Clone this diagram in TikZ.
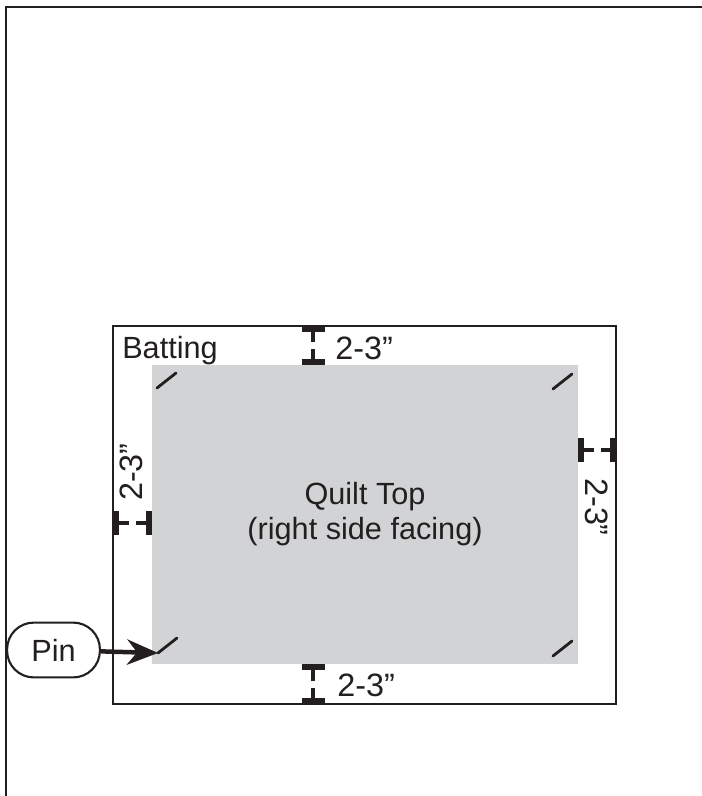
\documentclass[tikz,border=0pt]{standalone}
\usepackage{fontspec}
\setmainfont{Liberation Sans}
\usepackage{xcolor}
\definecolor{inkBlack}{HTML}{231F20}
\definecolor{quiltGray}{HTML}{D1D3D4}
\usetikzlibrary{
    arrows.meta,
    positioning
}
\tikzset{
    % Base style for all texts
    plain text/.style={
        font=\fontsize{21.8}{24.9}\selectfont,
        text=inkBlack,
        inner sep=0pt,
    },
    % Outer frame lines
    frame line/.style={
        draw=inkBlack,
        line width=1.7pt,
    },
    % Batting edge
    batting edge/.style={
        draw=inkBlack,
        line width=1.7pt,
    },
    % Quilt top fill
    quilt top/.style={
        fill=quiltGray,
    },
    % Two-line caption in the quilt
    quilt text/.style={
        plain text,
        align=center,
    },
    % Short pin strokes
    pin mark/.style={
        draw=inkBlack,
        line width=2pt,
        line cap=round,
    },
    % Gap marker parts
    gap cap/.style={
        draw=inkBlack,
        line width=4.3pt,
    },
    gap stem/.style={
        draw=inkBlack,
        line width=3.5pt,
    },
    % Gap size labels
    gap label/.style={
        plain text,
        font=\fontsize{23}{26}\selectfont,
    },
    % Rounded callout
    callout/.style={
        plain text,
        draw=inkBlack,
        line width=1.5pt,
        rounded corners=19pt,
        minimum width=66pt,
        minimum height=39pt,
    },
    % Callout arrow
    callout arrow/.style={
        -{Stealth[length=22pt, width=18pt]},
        draw=inkBlack,
        line width=3.2pt,
    },
}
\begin{document}
\begin{tikzpicture}[x=0.025cm, y=-0.025cm]
    \useasboundingbox (0,0) rectangle (702,796);

    % outer frame
    \draw [frame line] (6,796) -- (6,7) -- (702,7);

    % batting and quilt top
    \draw [batting edge] (113,326) rectangle (616,704);
    \fill [quilt top] (152,365) rectangle (578,664);
    \node (batting) [plain text, anchor=base west] at (122,358) {Batting};
    \node (quilt) [quilt text] at (365,514.5) {Quilt Top\\(right side facing)};

    % pins at the corners
    \foreach \name/\px/\py in {pinTL/157/388, pinTR/553/389, pinBL/158/653, pinBR/553/656}{
        \coordinate (\name) at (\px,\py);
        \draw [pin mark] (\name) -- ++(19,-15);
    }

    % vertical gap markers
    \foreach \gx/\ga/\gb in {313/326/365, 313/664/704}{
        \draw [gap cap] (\gx-11.5,\ga+3) -- (\gx+11.5,\ga+3);
        \draw [gap cap] (\gx-11.5,\gb-3) -- (\gx+11.5,\gb-3);
        \draw [gap stem] (\gx,\ga) -- (\gx,{(\ga+\gb)/2-3.5});
        \draw [gap stem] (\gx,{(\ga+\gb)/2+3.5}) -- (\gx,\gb);
    }

    % horizontal gap markers
    \foreach \gy/\ga/\gb in {523/113/152, 450/578/616}{
        \draw [gap cap] (\ga+3,\gy-12) -- (\ga+3,\gy+12);
        \draw [gap cap] (\gb-3,\gy-12) -- (\gb-3,\gy+12);
        \draw [gap stem] (\ga,\gy) -- ({(\ga+\gb)/2-3.5},\gy);
        \draw [gap stem] ({(\ga+\gb)/2+3.5},\gy) -- (\gb,\gy);
    }

    \node (gapTop) [gap label, anchor=base west] at (335,359) {2-3”};
    \node (gapBottom) [gap label, anchor=base west] at (337,696) {2-3”};
    \node (gapLeft) [gap label, rotate=90] at (131,472) {2-3”};
    \node (gapRight) [gap label, rotate=-90] at (597,507) {2-3”};

    % pin callout
    \node (pin) [callout] at (53.5,650) {Pin};
    \draw [callout arrow] (pin) -- (pinBL);
\end{tikzpicture}
\end{document}
